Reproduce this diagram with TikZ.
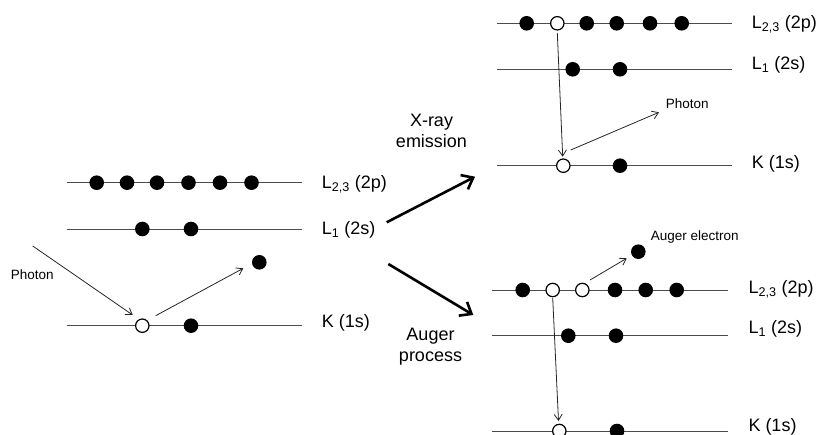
\documentclass[tikz,border=0pt]{standalone}
\usepackage{fontspec}
\setmainfont{Liberation Sans}
\usetikzlibrary{arrows.meta}
\begin{document}
\begin{tikzpicture}[x=1pt,y=-1pt,
  level/.style={draw=black!70, line width=0.9pt},
  full/.style={circle, fill=black, inner sep=0pt, minimum size=14.6pt},
  hole/.style={circle, draw=black, fill=white, line width=1.2pt, inner sep=0pt, minimum size=13.4pt},
  lab/.style={anchor=base west, font=\fontsize{18}{20}\selectfont, inner sep=0pt},
  small/.style={font=\fontsize{13.5}{15}\selectfont, inner sep=0pt},
  thin/.style={draw=black!85, line width=0.8pt, -{Straight Barb[length=6pt,width=8pt]}},
  big/.style={draw=black, line width=2.6pt, -{Straight Barb[length=10pt,width=16pt]}},
  proc/.style={align=center, font=\fontsize{18}{21.5}\selectfont, inner sep=0pt}]
\useasboundingbox (0,0) rectangle (816,435);
% ---------------- left ----------------
\coordinate (aL23a) at (66.7,182.7); \coordinate (aL23b) at (301.7,182.7);
\coordinate (aL1a) at (66.7,229); \coordinate (aL1b) at (301.7,229);
\coordinate (aKa) at (66.7,325.7); \coordinate (aKb) at (301.7,325.7);
\draw[level] (aL23a) -- (aL23b);
\draw[level] (aL1a) -- (aL1b);
\draw[level] (aKa) -- (aKb);
\foreach \x [count=\i] in {96.7,127,157,188.5,220,251.5}
  \node[full] (ap\i) at (\x,182.7) {};
\node[full] (as1) at (142.3,229) {};
\node[full] (as2) at (191,229) {};
\node[hole] (ak1) at (142.3,325.7) {};
\node[full] (ak2) at (191,325.7) {};
\node[full] (aej) at (259.3,262.3) {};
\node[lab] (alab1) at (321.7,188.3) {L\textsubscript{2,3} (2p)};
\node[lab] (alab2) at (321.7,234.5) {L\textsubscript{1} (2s)};
\node[lab] (alab3) at (321.7,327.5) {K (1s)};
\node[small] (aph) at (32.3,274.3) {Photon};
\coordinate (aphs) at (32.7,246);
\coordinate (aphe) at (132.7,315);
\draw[thin] (aphs) -- (aphe);
\coordinate (aeos) at (155.7,315.7);
\coordinate (aeoe) at (243.3,268.3);
\draw[thin] (aeos) -- (aeoe);
% ---------------- big arrows ----------------
\coordinate (bu1) at (386.7,222.3); \coordinate (bu2) at (475,176.7);
\coordinate (bd1) at (388.3,264); \coordinate (bd2) at (473.3,315);
\draw[big] (bu1) -- (bu2);
\draw[big] (bd1) -- (bd2);
\node[proc] (xray) at (431.5,131) {X-ray\\emission};
\node[proc] (auger) at (430.5,346.5) {Auger\\process};
% ---------------- top right ----------------
\coordinate (tL23a) at (496.7,23.3); \coordinate (tL23b) at (731.7,23.3);
\coordinate (tL1a) at (496.7,69.3); \coordinate (tL1b) at (731.7,69.3);
\coordinate (tKa) at (496.7,165.7); \coordinate (tKb) at (731.7,165.7);
\draw[level] (tL23a) -- (tL23b);
\draw[level] (tL1a) -- (tL1b);
\draw[level] (tKa) -- (tKb);
\node[full] (tp1) at (526.7,23.3) {};
\node[hole] (tp2) at (557.3,23.3) {};
\foreach \x [count=\i from 3] in {586.7,616.7,650,681.7}
  \node[full] (tp\i) at (\x,23.3) {};
\node[full] (ts1) at (572.7,69.3) {};
\node[full] (ts2) at (620,69.3) {};
\node[hole] (tk1) at (563.3,165.7) {};
\node[full] (tk2) at (620,165.7) {};
\node[lab] (tlab1) at (751.7,29) {L\textsubscript{2,3} (2p)};
\node[lab] (tlab2) at (751.7,70) {L\textsubscript{1} (2s)};
\node[lab] (tlab3) at (751.7,168.3) {K (1s)};
\coordinate (tds) at (557.3,33);
\coordinate (tde) at (562.7,156.7);
\draw[thin] (tds) -- (tde);
\coordinate (tphs) at (570.7,150);
\coordinate (tphe) at (659,112.3);
\draw[thin] (tphs) -- (tphe);
\node[small] (tph) at (687.3,103.3) {Photon};
% ---------------- bottom right ----------------
\coordinate (bL23a) at (491.7,290); \coordinate (bL23b) at (728.3,290);
\coordinate (bL1a) at (491.7,335.7); \coordinate (bL1b) at (728.3,335.7);
\coordinate (bKa) at (491.7,431); \coordinate (bKb) at (728.3,431);
\draw[level] (bL23a) -- (bL23b);
\draw[level] (bL1a) -- (bL1b);
\draw[level] (bKa) -- (bKb);
\node[full] (bp1) at (522.7,290) {};
\node[hole] (bp2) at (552.7,290) {};
\node[hole] (bp3) at (582.3,290) {};
\foreach \x [count=\i from 4] in {615,645.7,676.7}
  \node[full] (bp\i) at (\x,290) {};
\node[full] (bs1) at (568.3,335.7) {};
\node[full] (bs2) at (616,335.7) {};
\node[hole] (bk1) at (559.3,431) {};
\node[full] (bk2) at (617,431) {};
\node[full] (bej) at (638.3,251.7) {};
\node[lab] (blab1) at (748.3,294) {L\textsubscript{2,3} (2p)};
\node[lab] (blab2) at (748.3,333.3) {L\textsubscript{1} (2s)};
\node[lab] (blab3) at (748.3,431) {K (1s)};
\coordinate (bds) at (552.7,298);
\coordinate (bde) at (558.5,421);
\draw[thin] (bds) -- (bde);
\coordinate (baus) at (590,280);
\coordinate (baue) at (626.7,258.3);
\draw[thin] (baus) -- (baue);
\node[small, anchor=west] (bael) at (650.7,236.7) {Auger electron};
\end{tikzpicture}
\end{document}
